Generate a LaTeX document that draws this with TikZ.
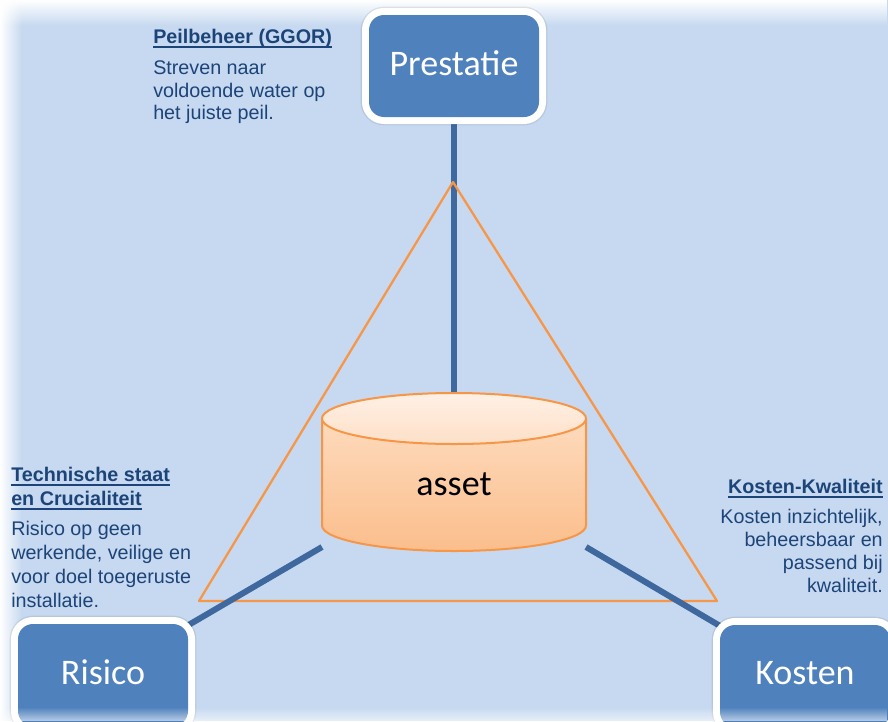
\documentclass[tikz,border=0pt]{standalone}
\usepackage{fontspec}
\setmainfont{Liberation Sans}
\newfontfamily\calfont{Carlito}
\usetikzlibrary{calc,fadings}
\definecolor{bgblue}{RGB}{198,217,240}
\definecolor{boxblue}{RGB}{79,129,189}
\definecolor{linkblue}{RGB}{62,104,158}
\definecolor{tri}{RGB}{247,150,70}
\definecolor{txt}{RGB}{28,68,120}
\definecolor{cyltopA}{RGB}{255,240,229}
\definecolor{cyltopB}{RGB}{253,224,200}
\definecolor{cylbodyA}{RGB}{254,224,198}
\definecolor{cylbodyB}{RGB}{251,190,140}
\pgfdeclarelayer{bg}
\pgfdeclarelayer{vlink}
\pgfdeclarelayer{trilayer}
\pgfdeclarelayer{dlink}
\pgfdeclarelayer{fg}
\pgfsetlayers{bg,vlink,trilayer,dlink,main,fg}
\tikzset{
  bluebox/.style={rectangle, rounded corners=11.25pt, fill=boxblue,
    minimum width=127.5pt, minimum height=76.5pt, text=white,
    text depth=4.5pt,
    font=\calfont\fontsize{27}{30}\selectfont,
    preaction={draw=black, opacity=0.08, line width=12.5pt},
    preaction={draw=white, line width=10.5pt}},
  link/.style={linkblue, line width=4.5pt},
  ann/.style={inner sep=0pt, text=txt, font=\fontsize{14.8}{17}\selectfont},
  annh/.style={ann, font=\bfseries\fontsize{14.8}{17}\selectfont},
  uline/.style={txt, line width=1.4pt}
}
\begin{document}
\begin{tikzpicture}[x=0.75pt,y=-0.75pt]
\useasboundingbox (0,0) rectangle (888,721);
\clip (0,0) rectangle (888,721);
\begin{pgfonlayer}{bg}
\fill[bgblue] (0,0) rectangle (888,721);
\fill[white, path fading=south] (0,0) rectangle (888,26);
\fill[white, path fading=east] (0,0) rectangle (22,721);
\end{pgfonlayer}

% boxes
\node[bluebox] (prestatie) at (454,66) {Prestatie};
\node[bluebox] (risico) at (103,675) {Risico};
\node[bluebox] (kosten) at (805,676) {Kosten};
\coordinate (cyl) at (454,472);
\coordinate (cylL) at (322,547);
\coordinate (cylR) at (586,547);

% cylinder
\shade[top color=cylbodyA, bottom color=cylbodyB]
  (322,418.5) -- (322,525.5) arc[start angle=180, end angle=0, x radius=132, y radius=25.5]
  -- (586,418.5) arc[start angle=0, end angle=-180, x radius=132, y radius=25.5] -- cycle;
\draw[tri, line width=1.5pt]
  (322,418.5) -- (322,525.5) arc[start angle=180, end angle=0, x radius=132, y radius=25.5]
  -- (586,418.5);
\shade[top color=cyltopA, bottom color=cyltopB] (454,418.5) ellipse[x radius=132, y radius=25.5];
\draw[tri, line width=1.5pt] (454,418.5) ellipse[x radius=132, y radius=25.5];
\node[anchor=base, inner sep=0pt, font=\calfont\fontsize{27}{30}\selectfont] (asset) at (454,495) {asset};

% connectors
\begin{pgfonlayer}{vlink}
\draw[link] (prestatie) -- (cyl);
\end{pgfonlayer}
\begin{pgfonlayer}{trilayer}
\draw[tri, line width=1.7pt, line join=round] (453,182) -- (717,601) -- (199,601) -- cycle;
\end{pgfonlayer}
\begin{pgfonlayer}{dlink}
\draw[link] (cylL) -- (risico);
\draw[link] (cylR) -- (kosten);
\end{pgfonlayer}

% annotations top
\node[annh, anchor=base west] (p0) at (153,43) {Peilbeheer (GGOR)};
\draw[uline] ($(p0.base west)+(0,4)$) -- ($(p0.base east)+(0,4)$);
\node[ann, anchor=base west] (p1) at (153,74) {Streven naar};
\node[ann, anchor=base west] (p2) at (153,97) {voldoende water op};
\node[ann, anchor=base west] (p3) at (153,119) {het juiste peil.};

% annotations left
\node[annh, anchor=base west] (r0) at (11,481) {Technische staat};
\draw[uline] ($(r0.base west)+(0,4)$) -- ($(r0.base east)+(0,4)$);
\node[annh, anchor=base west] (r1) at (11,505) {en Crucialiteit};
\draw[uline] ($(r1.base west)+(0,4)$) -- ($(r1.base east)+(0,4)$);
\node[ann, anchor=base west] (r2) at (11,535) {Risico op geen};
\node[ann, anchor=base west] (r3) at (11,559) {werkende, veilige en};
\node[ann, anchor=base west] (r4) at (11,583) {voor doel toegeruste};
\node[ann, anchor=base west] (r5) at (11,607) {installatie.};

% annotations right
\node[annh, anchor=base east] (k0) at (883,493) {Kosten-Kwaliteit};
\draw[uline] ($(k0.base west)+(0,4)$) -- ($(k0.base east)+(0,4)$);
\node[ann, anchor=base east] (k1) at (883,523) {Kosten inzichtelijk,};
\node[ann, anchor=base east] (k2) at (883,546) {beheersbaar en};
\node[ann, anchor=base east] (k3) at (883,569) {passend bij};
\node[ann, anchor=base east] (k4) at (883,592) {kwaliteit.};

\begin{pgfonlayer}{fg}
\fill[white, opacity=0.6, path fading=north] (0,707) rectangle (888,721);
\end{pgfonlayer}
\end{tikzpicture}
\end{document}
